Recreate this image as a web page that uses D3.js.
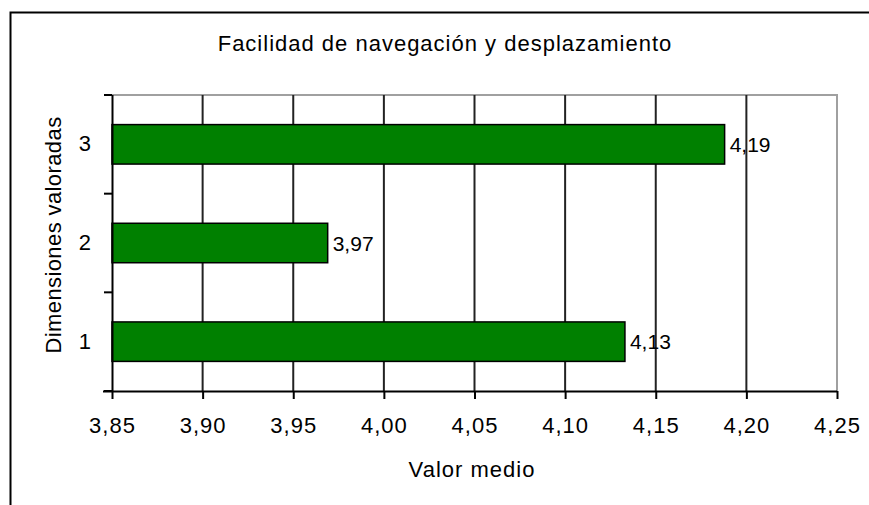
<!DOCTYPE html>
<html>
<head>
<meta charset="utf-8">
<script src="https://cdn.jsdelivr.net/npm/d3@7"></script>
<style>
  html, body { margin: 0; padding: 0; background: #fff; }
  svg { display: block; }
  text { font-family: "Liberation Sans", Arial, sans-serif; fill: #000; }
</style>
</head>
<body>
<svg id="chart" width="869" height="505"></svg>
<script>
// ---- data ----
const categories = ["1", "2", "3"];
const values = [4.133, 3.969, 4.188];
const valueLabels = ["4,13", "3,97", "4,19"];
const xTicks = [3.85, 3.90, 3.95, 4.00, 4.05, 4.10, 4.15, 4.20, 4.25];
const xTickLabels = ["3,85", "3,90", "3,95", "4,00", "4,05", "4,10", "4,15", "4,20", "4,25"];
const title = "Facilidad de navegación y desplazamiento";
const xTitle = "Valor medio";
const yTitle = "Dimensiones valoradas";

// ---- layout ----
const svg = d3.select("#chart");
const plot = { left: 112, right: 837, top: 95, bottom: 391 };
const FS = 22;

const x = d3.scaleLinear().domain([3.85, 4.25]).range([plot.left, plot.right]);
const y = d3.scaleBand().domain(categories.slice().reverse()).range([plot.top, plot.bottom]).padding(0);

// outer frame (left and top lines)
svg.append("path")
  .attr("d", `M10.5,505 L10.5,12.5 L869,12.5`)
  .attr("fill", "none").attr("stroke", "#000").attr("stroke-width", 2);

// title
svg.append("text")
  .attr("x", 445).attr("y", 51)
  .attr("text-anchor", "middle")
  .attr("font-size", FS)
  .attr("letter-spacing", 1)
  .text(title);

// plot border top/right gray
svg.append("path")
  .attr("d", `M${plot.left},${plot.top} L${plot.right},${plot.top} L${plot.right},${plot.bottom}`)
  .attr("fill", "none").attr("stroke", "#a0a0a0").attr("stroke-width", 2);

// gridlines
svg.append("g").selectAll("line")
  .data(xTicks.slice(1, -1))
  .join("line")
  .attr("x1", d => x(d)).attr("x2", d => x(d))
  .attr("y1", plot.top).attr("y2", plot.bottom)
  .attr("stroke", "#222").attr("stroke-width", 2);

// bars
const barH = y.bandwidth() * 0.4;
const rows = categories.map((c, i) => ({ c, v: values[i], l: valueLabels[i] }));
svg.append("g").selectAll("rect")
  .data(rows)
  .join("rect")
  .attr("x", x(3.85))
  .attr("y", d => y(d.c) + (y.bandwidth() - barH) / 2)
  .attr("width", d => x(d.v) - x(3.85))
  .attr("height", barH)
  .attr("fill", "#008000")
  .attr("stroke", "#000").attr("stroke-width", 1.5);

// value labels
svg.append("g").selectAll("text")
  .data(rows)
  .join("text")
  .attr("x", d => x(d.v) + 5)
  .attr("y", d => y(d.c) + y.bandwidth() / 2)
  .attr("dy", "0.36em")
  .attr("font-size", 21)
  .text(d => d.l);

// x axis
const xAxis = d3.axisBottom(x)
  .tickValues(xTicks)
  .tickFormat((d, i) => xTickLabels[i])
  .tickSize(8).tickSizeOuter(0).tickPadding(18);
const gx = svg.append("g").attr("transform", `translate(0,${plot.bottom})`).call(xAxis);
gx.select(".domain").attr("stroke", "#000").attr("stroke-width", 2)
  .attr("d", `M${plot.left - 9},0.5 H${plot.right}`);
gx.selectAll(".tick line").attr("stroke", "#000").attr("stroke-width", 2);
gx.selectAll(".tick text").attr("font-size", FS).attr("letter-spacing", 1)
  .attr("font-family", "Liberation Sans, Arial, sans-serif").attr("fill", "#000");

// y axis
const yAxis = d3.axisLeft(y).tickSize(0).tickPadding(21);
const gy = svg.append("g").attr("transform", `translate(${plot.left},0)`).call(yAxis);
gy.select(".domain").attr("stroke", "#000").attr("stroke-width", 2)
  .attr("d", `M0.5,${plot.top} V${plot.bottom}`);
gy.selectAll(".tick text").attr("font-size", FS)
  .attr("font-family", "Liberation Sans, Arial, sans-serif").attr("fill", "#000");
// y band boundary ticks
const bounds = categories.slice().reverse().map(c => y(c)).concat([plot.bottom]);
gy.append("g").selectAll("line")
  .data(bounds)
  .join("line")
  .attr("x1", -8).attr("x2", 0)
  .attr("y1", d => d).attr("y2", d => d)
  .attr("stroke", "#000").attr("stroke-width", 2);

// axis titles
svg.append("text")
  .attr("x", 472).attr("y", 477)
  .attr("text-anchor", "middle")
  .attr("font-size", FS)
  .attr("letter-spacing", 1)
  .text(xTitle);

svg.append("text")
  .attr("transform", `translate(61,235) rotate(-90)`)
  .attr("text-anchor", "middle")
  .attr("font-size", FS)
  .attr("letter-spacing", 0.4)
  .text(yTitle);
</script>
</body>
</html>
